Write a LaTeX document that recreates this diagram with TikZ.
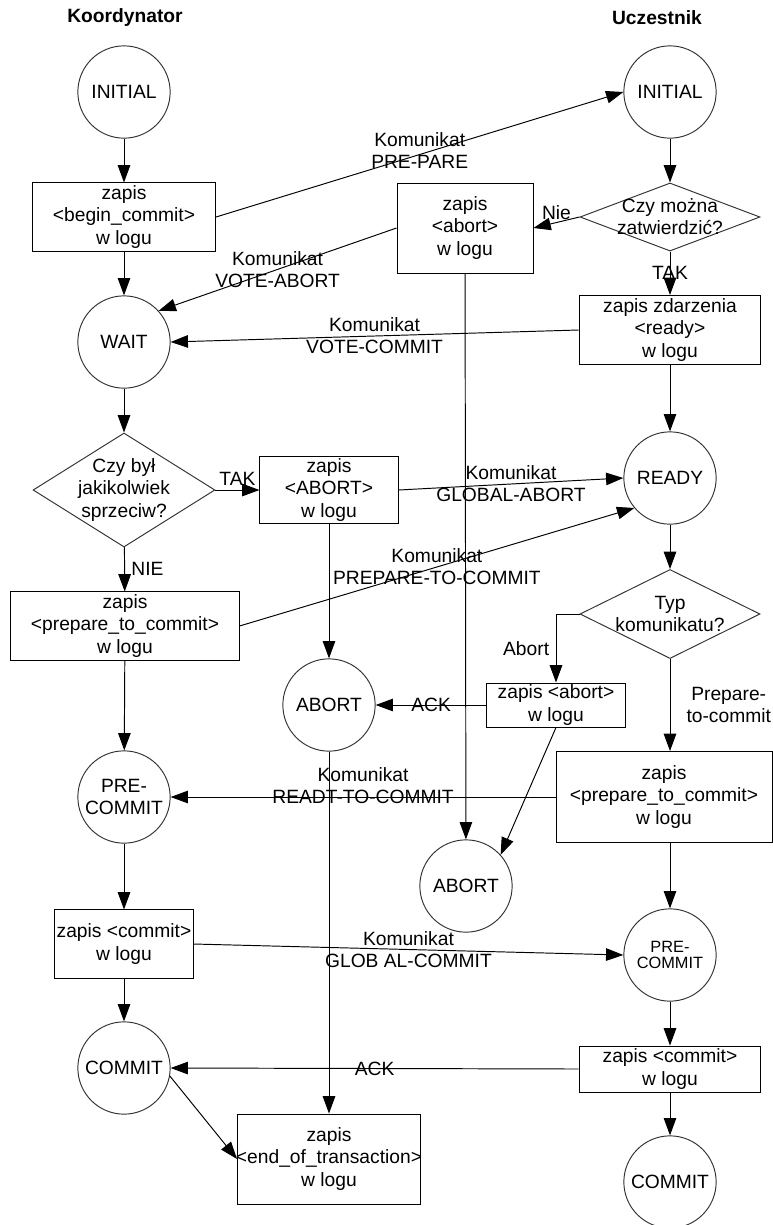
\documentclass[tikz,border=0pt]{standalone}
\usepackage{fontspec}
\setmainfont{Liberation Sans}
\usetikzlibrary{shapes.geometric,arrows.meta}

\begin{document}
\begin{tikzpicture}[x=0.52pt,y=-0.52pt,line width=0.5pt,
  font=\fontsize{10}{11.5}\selectfont,
  >={Triangle[length=9pt,width=6.5pt]},
  state/.style={circle,draw=black!80,minimum size=48pt,inner sep=0pt,align=center},
  logbox/.style={rectangle,draw,inner sep=1pt,align=center},
  question/.style={diamond,draw=black!80,inner sep=0pt},
  msg/.style={midway,align=center}]

\useasboundingbox (0,0) rectangle (773,1225);

\node (hk) at (125,18) {\bfseries Koordynator};
\node (hu) at (657,18) {\bfseries Uczestnik};

% koordynator
\node[state] (k1) at (124,92) {INITIAL};
\node[logbox,minimum width=95.2pt,minimum height=35.4pt] (k2) at (124,217) {zapis\\<begin\_commit>\\w logu};
\node[state] (k3) at (124,342) {WAIT};
\node[question,minimum width=94.6pt,minimum height=59.3pt] (k4) at (124,490) {};
\node[align=center] (k4t) at (k4) {Czy był\\jakikolwiek\\sprzeciw?};
\node[logbox,minimum width=71.8pt,minimum height=34.8pt] (k5) at (329,490) {zapis\\<ABORT>\\w logu};
\node[logbox,minimum width=118.6pt,minimum height=35.4pt] (k6) at (125,626) {zapis\\<prepare\_to\_commit>\\w logu};
\node[state] (k7) at (329,705) {ABORT};
\node[state] (k8) at (124,797) {PRE-\\COMMIT};
\node[logbox,inner xsep=0pt,minimum width=71.8pt,minimum height=35.4pt] (k9) at (124,944) {zapis <commit>\\w logu};
\node[state] (k10) at (124,1068) {COMMIT};
\node[logbox,minimum width=95.2pt,minimum height=46.8pt] (k11) at (329,1159) {zapis\\\makebox[93pt]{<end\_of\_transaction>}\\w logu};

% uczestnik
\node[state] (u1) at (670,92) {INITIAL};
\node[question,minimum width=93.6pt,minimum height=35.4pt] (u2) at (670,217) {};
\node[align=center] (u2t) at (u2) {Czy można\\zatwierdzić?};
\node[logbox,minimum width=70.7pt,minimum height=46.8pt] (u3) at (465,228) {zapis\\<abort>\\w logu};
\node[logbox,minimum width=94.6pt,minimum height=35.9pt] (u4) at (670,330) {zapis zdarzenia\\<ready>\\w logu};
\node[state] (u5) at (670,478) {READY};
\node[question,minimum width=93.6pt,minimum height=46.3pt] (u6) at (670,614) {};
\node[align=center] (u6t) at (u6) {Typ\\komunikatu?};
\node[logbox,minimum width=71.8pt,minimum height=22.9pt] (u7) at (556,705) {zapis <abort>\\w logu};
\node[logbox,minimum width=112.3pt,minimum height=47.3pt] (u8) at (664,797) {zapis\\<prepare\_to\_commit>\\w logu};
\node[state] (u9) at (466,886) {ABORT};
\node[state,font=\fontsize{8.5}{8.5}\selectfont] (u10) at (670,955) {PRE-\\COMMIT};
\node[logbox,minimum width=94.6pt,minimum height=23.9pt] (u11) at (670,1069) {zapis <commit>\\w logu};
\node[state] (u12) at (670,1182) {COMMIT};

% przejscia
\draw[->] (k1) -- (k2);
\draw[->] (k2) -- (k3);
\draw[->] (k2.east) -- (u1.west) node[msg,yshift=2pt] {Komunikat\\PRE-PARE};
\draw[->] (u1) -- (u2);
\draw[->] (u2.west) -- (u3.east) node[midway,yshift=5pt] {Nie};
\draw[->] (u2) -- (u4) node[midway] {TAK};
\draw[->] (u3.west) -- (k3.42) node[msg] {Komunikat\\VOTE-ABORT};
\draw[->] (u4.west) -- (k3.east) node[msg] {Komunikat\\VOTE-COMMIT};
\draw[->] (u4) -- (u5);
\draw[->] (u3) -- (u9);
\draw[->] (k3) -- (k4);
\draw[->] (k4) -- (k5) node[midway,yshift=6pt] {TAK};
\draw[->] (k5.east) -- (u5.west) node[msg] {Komunikat\\GLOBAL-ABORT};
\draw[->] (k5) -- (k7);
\draw[->] (k4) -- (k6) node[midway,right] {NIE};
\draw[->] (k6.east) -- (u5.220) node[msg] {Komunikat\\PREPARE-TO-COMMIT};
\draw[->] (u5) -- (u6);
\draw[->] (u6.west) -| (u7.north) node[pos=0.75,left] {Abort};
\draw[->] (u6.south) -- (u6.south |- u8.north) node[midway,right,xshift=5pt,align=center] {Prepare-\\to-commit};
\draw[->] (u7.west) -- (k7.east) node[midway] {ACK};
\draw[->] (u7.south) -- (u9.42);
\draw[->] (k6) -- (k8);
\draw[->] (k7) -- (k11);
\draw[->] (u8.west) -- (k8.east) node[msg,yshift=5.7pt] {Komunikat\\READT-TO-COMMIT};
\draw[->] (u6.south |- u8.south) -- (u10);
\draw[->] (k8) -- (k9);
\draw[->] (k9.east) -- (u10.west) node[msg] {Komunikat\\GLOB AL-COMMIT};
\draw[->] (k9) -- (k10);
\draw[->] (u10) -- (u11);
\draw[->] (u11.west) -- (k10.east) node[midway] {ACK};
\draw[->] (u11) -- (u12);
\draw[->] (k10.-10) -- (k11.west);

\end{tikzpicture}
\end{document}
